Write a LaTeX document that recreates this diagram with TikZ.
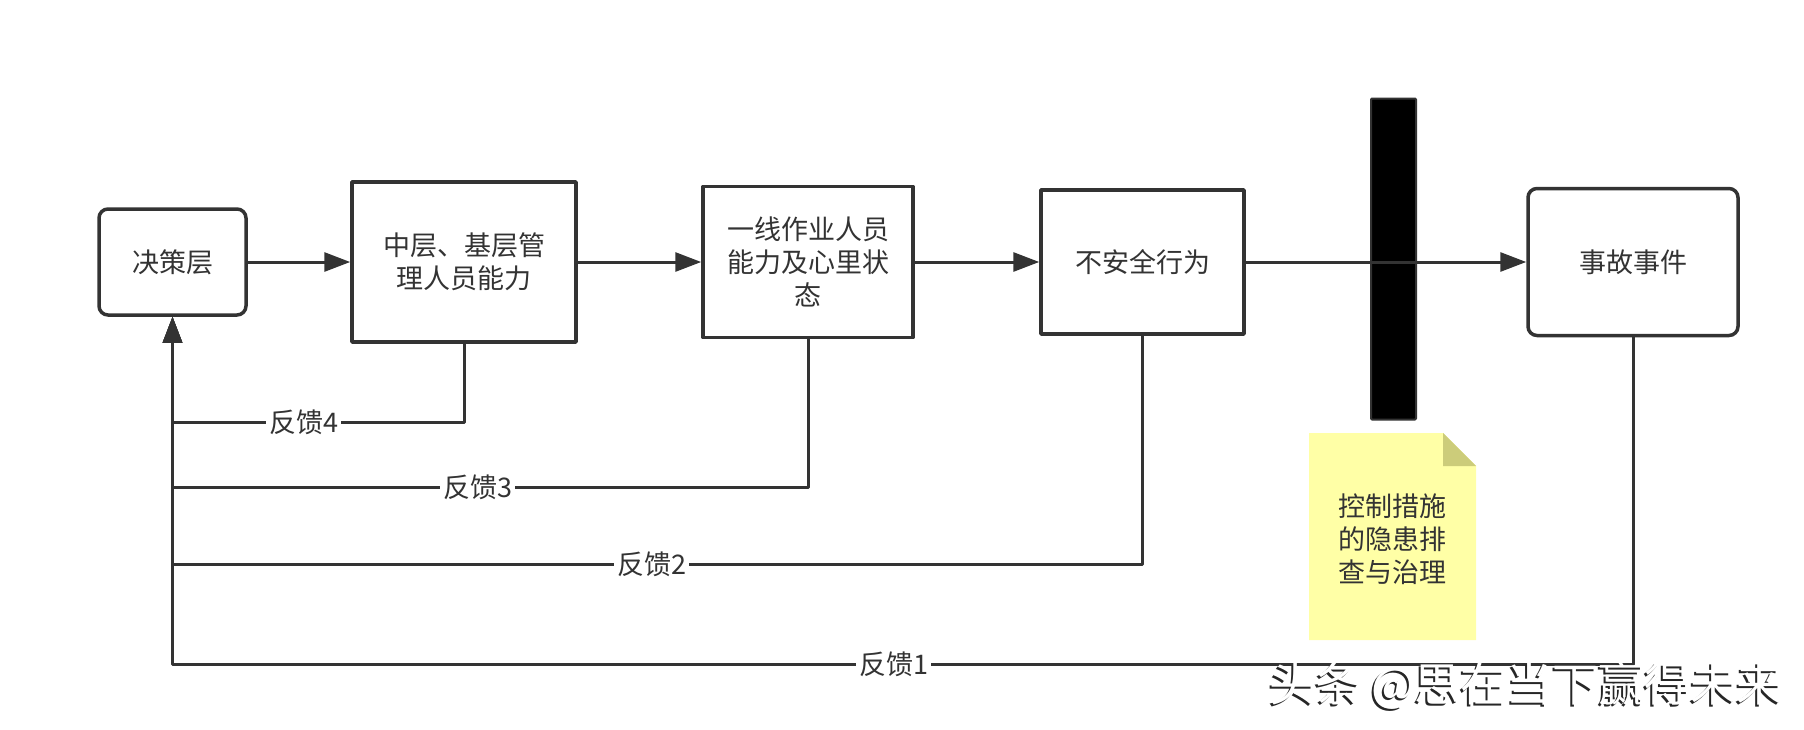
\documentclass[tikz,border=0pt]{standalone}
\usepackage{fontspec}
\newfontfamily\cjk{Noto Sans CJK SC}
\usetikzlibrary{arrows.meta}
\definecolor{ink}{HTML}{333333}
\definecolor{noteyellow}{HTML}{FFFFA6}
\definecolor{notefold}{HTML}{CCCC7A}
\begin{document}
\begin{tikzpicture}[x=1pt,y=-1pt,line join=round,
 font=\cjk\fontsize{27}{33}\selectfont,text=ink,
 box/.style={draw=ink,line width=3.5pt,fill=white,align=center,inner sep=0pt},
 rbox/.style={box,rounded corners=9pt},
 link/.style={draw=ink,line width=3pt,-{Triangle[length=26pt,width=19pt]}},
 tag/.style={fill=white,inner sep=3pt,pos=.753},
 wmark/.style={font=\cjk\fontsize{46}{46}\selectfont}]
 \useasboundingbox (0,0) rectangle (1804,729);
 % blocks
 \node[rbox,minimum width=147pt,minimum height=106pt] (dec) at (172.5,262) {决策层};
 \node[box,minimum width=224pt,minimum height=160pt] (mgr) at (464,262) {中层、基层管\\理人员能力};
 \node[box,minimum width=210pt,minimum height=151pt] (crew) at (808,262) {一线作业人员\\能力及心里状\\态};
 \node[box,minimum width=203pt,minimum height=144pt] (unsafe) at (1142.5,262) {不安全行为};
 \node[rbox,minimum width=210pt,minimum height=147pt] (acc) at (1633,262) {事故事件};
 \node[draw=ink,fill=black,line width=2pt,rounded corners=1pt,minimum width=45pt,minimum height=321pt] (bar) at (1393.5,259) {};
 % note
 \fill[noteyellow] (1309,433) -- (1443,433) -- (1476,466) -- (1476,640) -- (1309,640) -- cycle;
 \fill[notefold] (1443,433) -- (1476,466) -- (1443,466) -- cycle;
 \node[align=center] (note) at (1392.5,539) {控制措施\\的隐患排\\查与治理};
 % main chain
 \draw[link] (dec) -- (mgr);
 \draw[link] (mgr) -- (crew);
 \draw[link] (crew) -- (unsafe);
 \draw[link] (unsafe) -- (acc);
 % feedback
 \draw[link] (acc.south) |- node[tag]{反馈1} (dec.south |- 0,664) -- (dec.south);
 \draw[link] (unsafe.south) |- node[tag]{反馈2} (dec.south |- 0,564) -- (dec.south);
 \draw[link] (crew.south) |- node[tag,pos=.76]{反馈3} (dec.south |- 0,487) -- (dec.south);
 \draw[link] (mgr.south) |- node[tag,pos=.775]{反馈4} (dec.south |- 0,422) -- (dec.south);
 % watermark
 \node[wmark,text=black!85] (markshade) at (1524,688) {头条 @思在当下赢得未来};
 \node[wmark,text=white] (markname) at (1526,686) {头条 @思在当下赢得未来};
\end{tikzpicture}
\end{document}
